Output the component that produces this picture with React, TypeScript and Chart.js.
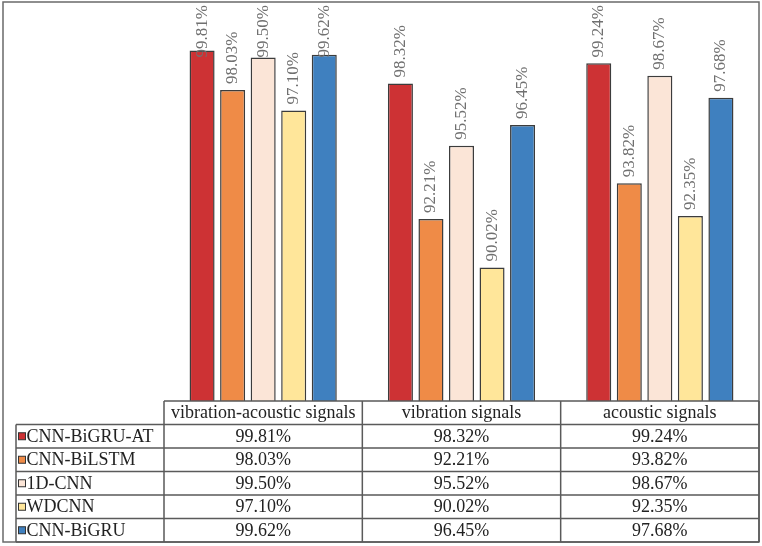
import React, { useEffect, useRef } from "react";
import { Chart, registerables } from "chart.js";

Chart.register(...registerables);

// ---- data ----
const categories = ["vibration-acoustic signals", "vibration signals", "acoustic signals"];
const seriesNames = ["CNN-BiGRU-AT", "CNN-BiLSTM", "1D-CNN", "WDCNN", "CNN-BiGRU"];
const cnnBiGruAt = [99.81, 98.32, 99.24];
const cnnBiLstm = [98.03, 92.21, 93.82];
const cnn1d = [99.5, 95.52, 98.67];
const wdcnn = [97.1, 90.02, 92.35];
const cnnBiGru = [99.62, 96.45, 97.68];
const seriesValues = [cnnBiGruAt, cnnBiLstm, cnn1d, wdcnn, cnnBiGru];
const seriesColors = ["#CD3234", "#EF8B47", "#FBE5D7", "#FFE69A", "#3F80BF"];
const yMin = 84;
const yMax = 102;

const SERIF = '"Liberation Serif", "Times New Roman", serif';
const fmt = (v: number) => v.toFixed(2) + "%";

const valueLabelPlugin = {
  id: "valueLabels",
  afterDatasetsDraw(chart: any) {
    const ctx = chart.ctx;
    ctx.save();
    ctx.font = "17px " + SERIF;
    ctx.fillStyle = "#707070";
    ctx.textAlign = "left";
    ctx.textBaseline = "middle";
    chart.data.datasets.forEach((ds: any, di: number) => {
      const meta = chart.getDatasetMeta(di);
      meta.data.forEach((el: any, i: number) => {
        const text = fmt(ds.data[i]);
        const w = ctx.measureText(text).width;
        const start = Math.max(el.y - 6, 5 + w);
        ctx.save();
        ctx.translate(el.x, start);
        ctx.rotate(-Math.PI / 2);
        ctx.fillText(text, 0, 0);
        ctx.restore();
      });
    });
    ctx.restore();
  },
};

const tablePlugin = {
  id: "dataTable",
  afterDraw(chart: any) {
    const ctx = chart.ctx;
    const area = chart.chartArea;
    const xs = chart.scales.x;
    const n = categories.length;
    const catW = xs.getPixelForValue(1) - xs.getPixelForValue(0);
    const colEdges: number[] = [];
    for (let i = 0; i < n; i++) colEdges.push(xs.getPixelForValue(i) - catW / 2);
    colEdges.push(xs.getPixelForValue(n - 1) + catW / 2);
    const top = area.bottom;
    const bottom = chart.height - 4;
    const rows = seriesNames.length + 1;
    const rowH = (bottom - top) / rows;
    const legendLeft = 16;
    const left = colEdges[0];
    const right = colEdges[n];

    ctx.save();
    // frame
    ctx.strokeStyle = "#6a6a6a";
    ctx.lineWidth = 1.5;
    ctx.strokeRect(3, 2, right - 3, bottom - 2);

    // grid lines
    ctx.strokeStyle = "#5a5a5a";
    ctx.lineWidth = 1.5;
    ctx.beginPath();
    ctx.moveTo(left, top);
    ctx.lineTo(right, top);
    for (let r = 1; r <= rows; r++) {
      const y = top + r * rowH;
      ctx.moveTo(legendLeft, y);
      ctx.lineTo(right, y);
    }
    ctx.moveTo(legendLeft, top + rowH);
    ctx.lineTo(legendLeft, bottom);
    for (let c = 0; c <= n; c++) {
      ctx.moveTo(colEdges[c], top);
      ctx.lineTo(colEdges[c], bottom);
    }
    ctx.stroke();

    // header text
    ctx.font = "18px " + SERIF;
    ctx.fillStyle = "#222";
    ctx.textBaseline = "middle";
    ctx.textAlign = "center";
    categories.forEach((c, i) => {
      ctx.fillText(c, xs.getPixelForValue(i), top + rowH / 2 + 1);
    });

    // rows
    seriesNames.forEach((name, si) => {
      const yc = top + (si + 1) * rowH + rowH / 2 + 1;
      ctx.fillStyle = seriesColors[si];
      ctx.fillRect(18.5, yc - 4.5, 7, 7);
      ctx.strokeStyle = "#333";
      ctx.lineWidth = 1;
      ctx.strokeRect(18.5, yc - 4.5, 7, 7);
      ctx.fillStyle = "#222";
      ctx.textAlign = "left";
      ctx.fillText(name, 26.5, yc);
      ctx.textAlign = "center";
      seriesValues[si].forEach((v, i) => {
        ctx.fillText(fmt(v), xs.getPixelForValue(i), yc);
      });
    });
    ctx.restore();
  },
};

export default function App() {
  const ref = useRef<HTMLCanvasElement | null>(null);
  useEffect(() => {
    if (!ref.current) return;
    const chart = new Chart(ref.current, {
      type: "bar",
      data: {
        labels: categories,
        datasets: seriesNames.map((name, i) => ({
          label: name,
          data: seriesValues[i],
          backgroundColor: seriesColors[i],
          borderColor: "#3c3c3c",
          borderWidth: 1.5,
          categoryPercentage: 0.77,
          barPercentage: 0.82,
        })),
      },
      options: {
        responsive: false,
        animation: false,
        layout: { padding: { left: 164, right: 3, top: 2, bottom: 145 } },
        plugins: { legend: { display: false }, tooltip: { enabled: false } },
        scales: {
          x: { display: false },
          y: { display: false, min: yMin, max: yMax },
        },
      },
      plugins: [valueLabelPlugin, tablePlugin],
    });
    return () => chart.destroy();
  }, []);
  return (
    <div style={{ position: "fixed", left: 0, top: 0, width: 762, height: 546, background: "#fff" }}>
      <canvas ref={ref} width={762} height={546} style={{ display: "block" }} />
    </div>
  );
}
